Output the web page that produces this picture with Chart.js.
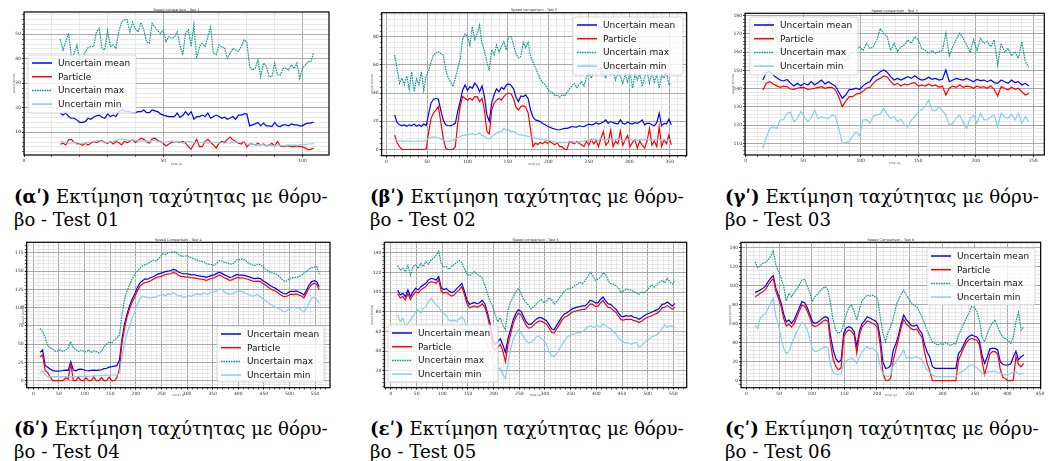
<!DOCTYPE html>
<html>
<head>
<meta charset="utf-8">
<script src="https://cdn.jsdelivr.net/npm/chart.js@4.4.1/dist/chart.umd.min.js"></script>
<style>
  body { margin: 0; background: #fff; width: 1050px; height: 461px; position: relative; overflow: hidden; }
  canvas { position: absolute; }
  .cap { position: absolute; font-family: 'DejaVu Serif', 'Liberation Serif', serif; font-size: 17px; line-height: 23px; color: #000; white-space: nowrap; }
</style>
</head>
<body>
<canvas id="c1" width="350" height="170" style="left:0px;top:0px"></canvas>
<canvas id="c2" width="350" height="170" style="left:355px;top:0px"></canvas>
<canvas id="c3" width="340" height="170" style="left:710px;top:0px"></canvas>
<canvas id="c4" width="350" height="166" style="left:0px;top:235px"></canvas>
<canvas id="c5" width="350" height="166" style="left:355px;top:235px"></canvas>
<canvas id="c6" width="340" height="166" style="left:710px;top:235px"></canvas>

<div class="cap" style="left:14px;top:185px"><span><b>(α&#x374;)</b> Εκτίμηση ταχύτητας με θόρυ-</span><br>βο - Test 01</div>
<div class="cap" style="left:370px;top:185px"><span><b>(β&#x374;)</b> Εκτίμηση ταχύτητας με θόρυ-</span><br>βο - Test 02</div>
<div class="cap" style="left:725px;top:185px"><span><b>(γ&#x374;)</b> Εκτίμηση ταχύτητας με θόρυ-</span><br>βο - Test 03</div>
<div class="cap" style="left:14px;top:417px"><span><b>(δ&#x374;)</b> Εκτίμηση ταχύτητας με θόρυ-</span><br>βο - Test 04</div>
<div class="cap" style="left:370px;top:417px"><span><b>(ε&#x374;)</b> Εκτίμηση ταχύτητας με θόρυ-</span><br>βο - Test 05</div>
<div class="cap" style="left:725px;top:417px"><span><b>(ς&#x374;)</b> Εκτίμηση ταχύτητας με θόρυ-</span><br>βο - Test 06</div>

<script>
// sampling grid of each test: first time, step (s)
const t1Start = 13, t1Step = 1
const t2Start = 10, t2Step = 3
const t3Start = 15, t3Step = 3
const t4Start = 13, t4Step = 5
const t5Start = 13, t5Step = 5
const t6Start = 13, t6Step = 4

// Test 1
const mean1 = [17.8, 17, 17.8, 16.4, 15.7, 15.7, 15, 14, 14, 14.3,
  15.7, 15.3, 16.1, 16.7, 17, 16.1, 15.7, 17.5, 16.4, 17,
  16.4, 18.4, 19.1, 18.7, 18.4, 18.4, 18, 18, 18.4, 18.4,
  19.1, 18, 18, 19.1, 18.7, 18.4, 17.5, 17, 16.7, 16.4,
  16.4, 16.4, 17.8, 16.1, 16.8, 18.4, 17, 18.4, 15.3, 16.4,
  16.4, 17, 16.4, 17.8, 15.7, 16.4, 17, 16.4, 15.7, 16.1,
  15.3, 15.8, 16.4, 15.3, 17, 17, 17.5, 17.5, 12.6, 13,
  13.4, 14, 12.6, 13.7, 12.6, 12.6, 12.3, 14, 12.6, 12.3,
  13, 13, 12.6, 13.4, 13, 13, 12.6, 12.6, 13.4, 13.7,
  13.7, 14.2]
const particle1 = [5.1, 5.5, 4.8, 6.9, 7.1, 5.8, 5.5, 5.2, 4.7, 5.5,
  4.8, 5.5, 6.2, 5.8, 6.2, 6.6, 5.8, 5.5, 6.2, 5.2,
  6.2, 5.8, 4.8, 6.2, 5.8, 6.2, 6.9, 5.8, 6.6, 7.6,
  7.1, 6.2, 5.5, 7.3, 7.6, 6.6, 6.2, 5.5, 4.4, 5.2,
  5.8, 6.2, 6.2, 5.8, 6.2, 5.5, 4.1, 3.1, 5.2, 7.1,
  4.1, 4.1, 6.2, 7.1, 5.8, 4.8, 3.5, 5.5, 6.2, 5.8,
  7.1, 8, 6.9, 6.2, 5.5, 5.2, 6.2, 4.1, 5.2, 5.2,
  4.8, 5.5, 4.8, 5.2, 4.4, 4.8, 5.5, 4.4, 6.2, 4.4,
  4.1, 4.4, 4.4, 4.1, 4.1, 4.4, 4.1, 4.1, 3.5, 2.8,
  3.0, 3.5]
const max1 = [48, 43.5, 47, 50.4, 41, 42, 45.6, 39.5, 40, 43,
  44.5, 45, 45, 51, 52.4, 44.3, 43.6, 51.5, 45, 45.6,
  44.3, 51, 54.8, 55.9, 56, 51, 55, 52, 51, 54.8,
  51.8, 47, 46.3, 54.5, 53, 51.5, 50.4, 51.8, 47, 49,
  48.4, 48.8, 51, 45.6, 41.6, 50.4, 51.8, 45, 53.8, 40.2,
  45, 46.3, 45, 49, 53, 42.2, 41.6, 45.6, 44.7, 44.7,
  40.2, 42.2, 44.3, 43.6, 43, 45, 47.7, 47, 36.8, 35.4,
  36.1, 39.5, 32.7, 38.2, 36.8, 32.7, 32.7, 38.2, 33.4, 33.4,
  36.1, 36.1, 35.4, 37.5, 36, 38.2, 32, 36.1, 37.5, 38.8,
  38.8, 42.5]
const min1 = [6.2, 6, 5.8, 5.5, 5.5, 5.8, 5, 5.2, 5.5, 5.5,
  5.8, 6, 6.2, 6.5, 6.6, 6.2, 6, 5.8, 6, 6.2,
  6.6, 7, 7.1, 7.1, 6.9, 6.6, 6.9, 6.6, 6.6, 6.4,
  6.6, 6.4, 6.2, 6.6, 6.6, 6.2, 6, 5.8, 6, 6.2,
  6.4, 6.2, 6.2, 6, 5.5, 6.2, 6.2, 6, 5.8, 5.5,
  5.8, 5.8, 6, 5.5, 5.8, 6, 5.8, 5.5, 5.8, 5.5,
  5.8, 5.5, 5.8, 6, 5.8, 6, 6.2, 5.2, 5, 5.2,
  4.8, 4.6, 5, 4.8, 4.6, 4.8, 4.4, 4.6, 4.8, 4.6,
  4.4, 4.6, 4.8, 4.6, 4.8, 4.6, 4.8, 5, 5, 5.2,
  5.2, 5.4]

// Test 2
const mean2 = [24.5, 19, 17.5, 17, 17.5, 16.5, 17.5, 16.8, 18, 16.5,
  17.5, 16.3, 18, 17, 25, 33, 35.5, 36.3, 35.6, 28,
  21, 17.5, 17, 16.8, 17.5, 18.6, 27, 34, 42, 45.8,
  42, 44.6, 43.4, 47, 45, 41, 45, 37.5, 24.5, 20,
  33, 39, 43, 41, 44, 42.7, 45.8, 46.5, 45.5, 43,
  37, 34, 38, 37.5, 38.7, 36, 28, 23, 21, 20.5,
  19.8, 18.5, 17.5, 16.5, 15.8, 15, 14.5, 14, 14, 14.5,
  15, 15, 15.5, 16.3, 16, 15.8, 16.8, 16.5, 16.3, 17.2,
  18, 17.5, 17.8, 19, 18, 18.6, 19.5, 21, 18.5, 19.8,
  19, 18.5, 18, 21, 18.5, 18, 19.5, 18.5, 18, 19,
  18.5, 19.5, 21, 17.5, 18.5, 18.6, 17.5, 16.8, 19, 25.7,
  16.8, 18.5, 18, 21.5, 17.5]
const particle2 = [10.4, 5, 2, 0, 0, 0, 0, 0, 0, 0,
  0, 0, 0, 0.5, 12, 22, 25.7, 28, 30.4, 20,
  8, 1, 0, 0, 0, 2, 18.6, 30.4, 37.5, 36.3,
  35, 36.3, 35, 37.5, 37.5, 34, 36.3, 28, 12.7, 11,
  28, 33, 35, 36.3, 35, 37.5, 39.4, 40, 39.5, 36,
  30, 28, 30.4, 31, 30, 26, 14, 2, 4.5, 3.5,
  5, 4, 5.7, 4.5, 5.7, 4.5, 3.3, 5, 2, 2,
  0, 0, 5.7, 5, 4, 5.7, 4.5, 3.3, 2, 6,
  3, 7, 4, 6.5, 2, 8, 12.7, 3, 5, 13.8,
  2, 6, 4, 13, 3, 6.8, 10, 2, 5, 7,
  1, 6, 3, 1, 6, 15, 3, 6, 2, 16.3,
  2, 6.8, 4, 10.4, 3.3]
const max2 = [67, 57.6, 47, 50.5, 46, 52, 43, 55, 41, 50,
  46, 55, 42, 52, 56, 62, 67, 68.5, 69.4, 68,
  67, 57, 51, 48, 44.6, 50.5, 57.6, 64, 78, 82,
  80, 74, 87, 78, 82, 88, 75, 70, 62, 56,
  70.6, 67, 74, 69.4, 73, 76.5, 70.6, 80, 80, 74,
  68, 65, 66, 76, 72, 76, 66, 62, 58, 54,
  50, 47.5, 46, 43, 41, 40.5, 38, 38.7, 37, 39,
  38, 40.5, 43, 45, 47, 44, 46, 48, 45, 51,
  55, 50.5, 56, 53, 58.8, 53, 55, 50.5, 63.5, 53,
  55, 49.3, 55, 51.7, 47, 53, 48, 55, 43.4, 53,
  49.3, 54, 44.6, 51.7, 55, 47, 55, 48, 53, 43.4,
  53, 50.5, 55, 45.8, 47]
const min2 = [6.8, 6.5, 6, 6.2, 5.8, 6.2, 5.7, 6, 5.5, 6,
  5.7, 6.2, 5.8, 6.4, 8, 8.7, 8.9, 8.7, 8.5, 7.5,
  6.8, 6, 5.7, 6.2, 6.5, 7.3, 8.5, 9.2, 10, 10.4,
  10.2, 11, 11.2, 10.4, 10.8, 11.6, 10, 9.5, 8, 7.5,
  9, 10.5, 11.6, 12.5, 13, 15, 13.5, 14, 12.7, 13,
  11.5, 10.5, 10.4, 9.8, 10, 9.2, 9.5, 9, 8, 7.8,
  7.3, 7, 6.8, 6.5, 6.4, 5.7, 5.5, 5, 5, 5.2,
  5, 5, 5.3, 5.7, 5.2, 5, 5.5, 5.7, 6, 6.4,
  6.8, 6.5, 7.3, 6.8, 6.5, 8, 7, 6.8, 7.3, 7,
  6.4, 7, 7.3, 6.8, 6.4, 6.5, 6.8, 7.3, 6.5, 6.8,
  6.4, 7, 6.8, 6.8, 7.3, 6.8, 6.4, 7, 6.8, 7.3,
  6.4, 6.8, 6.5, 6.8, 6.8]

// Test 3
const mean3 = [144.7, 148.8, 149.3, 147.5, 146, 144.7, 144.2, 145, 143, 141.4,
  142.9, 141.6, 142.9, 142, 143.8, 142, 143.3, 144.7, 142.5, 143.8,
  142.5, 141.4, 138, 134.7, 136.5, 139.5, 139.6, 140.2, 139.5, 141.5,
  142.9, 143.8, 146.6, 147.5, 149.3, 150.2, 149, 146.6, 144.7, 145.6,
  144.7, 145.6, 146.6, 145.6, 147, 145.6, 144.7, 145.1, 146.2, 145.1,
  145.6, 144.7, 145.1, 150.2, 143.8, 144.7, 145.6, 145.1, 144.7, 145.6,
  144.7, 143.8, 145.1, 144.4, 144.7, 143.8, 144.7, 143.3, 142.9, 144.7,
  143.8, 142.9, 144.7, 143.3, 143.8, 142, 142.9, 141.4]
const particle3 = [139.2, 143, 143.8, 142.5, 141.5, 140.7, 141.4, 141, 139.8, 139.6,
  140.2, 140.7, 140.5, 139.6, 139.8, 140.2, 140.7, 141.1, 140.2, 140.7,
  140.7, 139.2, 135.5, 130.1, 133, 135.6, 135.6, 137, 137.4, 138.5,
  140.2, 140.7, 142.9, 144.7, 145.6, 147, 146.4, 144, 142, 142.9,
  141.4, 142.5, 142, 142.9, 143.3, 141.4, 142, 141.4, 142.5, 141.4,
  142, 140.7, 141.4, 136.5, 140.2, 141.4, 140.7, 142, 140.7, 141.4,
  141.1, 140.2, 141.4, 140.7, 141.1, 140.2, 141.4, 139.6, 136, 141.1,
  140.2, 139.2, 140.7, 139.6, 140.2, 138.3, 136.5, 137.4]
const max3 = [171, 175, 177, 171, 168, 164, 160.5, 157.5, 156, 155,
  154.8, 156, 156.6, 154.5, 155, 155.7, 157, 158.4, 156, 156.5,
  157.5, 158.5, 159.4, 157, 155, 158.4, 160, 161.5, 163, 161,
  164.8, 162, 163, 166.7, 173, 170.3, 168.5, 161, 164.8, 160.3,
  163, 164, 166.7, 164.8, 168.5, 166.7, 162, 161, 159.4, 161,
  159.4, 160.3, 161, 170.3, 158, 163, 167, 170.3, 167.6, 164,
  160, 166.7, 161, 167.6, 164.8, 165.7, 163, 166.7, 153, 164.8,
  160, 162, 158, 160.3, 156.6, 165.7, 154.8, 152]
const min3 = [107.3, 113.2, 118.2, 119.1, 118.2, 122.8, 123, 126.5, 127, 121.9,
  123.7, 127.4, 124.6, 121.9, 124, 128.3, 123.5, 124.6, 124, 123.7,
  125.5, 125, 118, 110, 110.5, 110.9, 114, 116.4, 114, 122.8,
  123, 121, 125, 125.5, 126, 129.2, 125.8, 123.7, 124.6, 121.9,
  123.2, 120.1, 119, 122.8, 124.6, 127.4, 128.5, 130.1, 133.8, 128.3,
  128, 130.1, 127.8, 125.5, 120, 121, 124, 125.5, 121.5, 118.2,
  123.5, 125.5, 121, 126.5, 123, 122.8, 124.6, 125.5, 119.1, 126.5,
  124.6, 123.7, 126, 122.8, 126.5, 121, 124.6, 121.9]

// Test 4
const mean4 = [38.8, 42, 21, 18.5, 16, 13.8, 13.2, 13.2, 13.5, 14,
  14.6, 14.2, 26, 14.6, 13.5, 15.5, 15.9, 15, 14, 13.5,
  14.2, 14.6, 14.2, 14.6, 15, 16.5, 17, 18.5, 19.2, 20,
  20.6, 28.3, 57, 78, 92, 103, 112, 119, 127.5, 134,
  137, 139.5, 139, 141, 142, 144, 146, 147, 148, 149.5,
  150, 151, 152.5, 151.5, 149, 147.5, 146.5, 146.5, 146, 145,
  145.5, 144.3, 143.5, 143, 142.5, 141.5, 143, 144.2, 145, 147,
  148.5, 147, 145, 143.5, 141.5, 142, 144, 145.5, 144.5, 144.8,
  144, 143, 141.8, 140.5, 139.8, 140.5, 140, 137, 135, 132.5,
  130, 128, 126.5, 124, 121.5, 119.5, 118.5, 121, 122.5, 122,
  122.9, 121.5, 120, 117.4, 124, 131, 135.5, 137, 135.5, 128.8]
const particle4 = [32.9, 35.2, 14, 11, 5, 0, 0, 0, 0, 0,
  4, 2, 23.8, 0, 0, 5, 0, 0, 4, 0,
  0, 5, 0, 0, 4, 0, 0, 5, 0, 0,
  4, 16.4, 52, 72, 88, 99, 107.5, 115, 123, 129.5,
  132.5, 134.5, 135, 136.5, 138.5, 140.5, 142, 142.6, 144, 145.5,
  146, 146.5, 148, 147.5, 144.5, 143, 142.5, 142, 142, 141,
  140.8, 140.3, 139.5, 139, 138.5, 137.5, 139, 140, 141, 143,
  144.5, 143, 141, 139.5, 137.5, 138, 140, 141.5, 140.5, 141,
  140, 139, 137.8, 136.5, 136, 136.5, 136, 133, 131, 128.5,
  126, 124, 122.5, 120, 117.5, 115.5, 115, 117, 118.5, 118,
  119, 117.5, 116, 113.5, 120, 127, 131.5, 133.5, 132, 124.5]
const max4 = [71.7, 67, 60, 48, 45, 43, 40.5, 40.5, 42, 39.8,
  42, 45, 53.4, 45, 42.5, 40, 42, 40.7, 39.5, 42,
  39, 40.7, 39.8, 38, 40, 46.6, 50, 53.4, 51.2, 56,
  58, 62.6, 90, 112, 123, 132, 140, 145.5, 150, 154,
  157.5, 159, 160.2, 162.5, 165, 164, 166, 170, 174, 173,
  175, 176, 176.5, 176, 173, 171, 170.5, 171, 170.5, 168.5,
  167, 166, 164, 163.5, 163, 160, 159.5, 159, 158, 161,
  164.5, 164, 162, 161.5, 160, 159.5, 162.5, 166, 166, 166.5,
  165.5, 162, 160, 158.5, 158, 159.5, 159, 156, 153, 150.5,
  148, 147.5, 146.5, 144, 140.5, 137, 136, 138.5, 141, 141.2,
  141.8, 142, 144, 147.5, 149.5, 153, 154.5, 155.5, 156.3, 145.8]
const min4 = [11.4, 13.2, 8, 5.5, 5.5, 5.2, 5.5, 5.5, 5.3, 5.5,
  5.5, 5.7, 5.5, 5.5, 5.8, 5.8, 6, 6, 6.2, 6,
  6.2, 6.5, 6.5, 6.8, 7, 7, 7.3, 7.5, 7.8, 7.8,
  8, 10, 32, 52, 65, 76, 86, 95, 104, 112,
  116, 114.5, 114, 113, 114.5, 114, 116, 117, 118, 116,
  119, 118, 120.5, 118.5, 116, 116.5, 114, 115, 116.5, 115.5,
  117.5, 119, 118, 118, 120.5, 118.5, 119.5, 121.5, 122, 123,
  125.7, 125, 121.5, 119.7, 118.5, 119, 121, 122.5, 123, 122,
  120, 118.5, 117, 115.5, 117, 118, 115, 112, 109.5, 107,
  104.5, 102.5, 100.5, 99, 97.5, 94.5, 95, 98, 99.5, 101,
  99.5, 100, 97, 94, 99, 106, 113, 114, 111, 106]

// Test 5
const mean5 = [102.1, 97.1, 98.8, 95.4, 102.1, 95.4, 100.4, 103.8, 102.1, 105.5,
  107.2, 108.9, 112.3, 114, 113.3, 112.3, 115.7, 104, 102.5, 103.5,
  101, 99.5, 100.5, 103.5, 106, 108.9, 101, 92, 87.5, 88.6,
  89.5, 88, 89.5, 91.5, 88, 79, 68, 52, 47, 50,
  52.5, 46, 39, 53, 62, 72, 78, 82, 80.5, 75.5,
  70, 67, 67.5, 70, 72.5, 74, 74, 72.5, 71, 67,
  62.5, 62, 66.5, 70.5, 75, 78, 79, 81, 83, 84,
  84.8, 85.2, 86, 86, 88.5, 91.5, 91, 89, 89, 92.5,
  95, 91, 88, 87.5, 85, 83, 79, 75.5, 75.1, 76,
  75.5, 76, 74.5, 74, 72.5, 74, 76, 77.5, 78.5, 79.5,
  81, 81.9, 84, 87.5, 88, 90, 88, 86, 88.6]
const particle5 = [98.5, 94, 95.5, 92, 98.5, 92.5, 97, 100.5, 99, 102,
  104, 105.5, 109, 110.5, 110, 109, 112.5, 100.5, 99, 100,
  97.5, 96, 97, 100, 102.5, 105.5, 97.5, 88.5, 84, 85,
  86, 84.5, 86, 88, 84.5, 75.5, 64, 44, 41.3, 44,
  47, 40, 29.5, 47, 57, 68, 74.5, 78.5, 77, 72,
  66.5, 63.5, 64, 66.5, 69, 70.5, 70.5, 69, 67.5, 63.5,
  59, 58.5, 63, 67, 71.5, 74.5, 75.5, 77.5, 79.5, 80.5,
  81.3, 81.7, 82.5, 82.5, 85, 88, 87.5, 85.5, 85.5, 89,
  91.5, 87.5, 84.5, 84, 81.5, 79.5, 75.5, 72, 71.6, 72.5,
  72, 72.5, 71, 70.5, 69, 70.5, 72.5, 74, 75, 76,
  77.5, 78.4, 80.5, 84, 84.5, 86.5, 84.5, 82.5, 85]
const max5 = [126.8, 122.4, 124, 120.7, 126.8, 117.3, 125.8, 127.5, 124, 129.2,
  125.8, 130.9, 128.2, 132.6, 134.3, 137.6, 141.7, 128.5, 125.5, 125.8,
  123, 126, 128, 130, 132, 130, 124, 118.5, 116.5, 119,
  120.7, 118, 116.5, 114, 107, 98.5, 91, 85.5, 77, 70,
  74, 66, 62, 82, 90, 95, 100, 104, 99, 93,
  89.5, 86.5, 83, 85, 88, 91, 92.5, 89, 91, 94.5,
  92, 88, 90.5, 94, 97.5, 101, 103, 103.5, 104.5, 106.5,
  108, 110, 108.5, 111.5, 115.5, 120, 117, 112, 113, 115,
  119.5, 118, 112, 108.5, 108, 106.5, 104.5, 99.5, 101, 103,
  102.5, 102, 100.5, 99.5, 97.5, 100, 99, 101.5, 104.5, 107,
  105, 107.5, 110, 112, 109.5, 114, 110.6, 108, 112.3]
const min5 = [76.8, 70, 73.4, 65, 68.3, 71.7, 75.1, 80.2, 81.9, 78.5,
  83.5, 85.2, 90.3, 93.7, 90.3, 86.9, 85.2, 80, 78.5, 76,
  71.5, 70.5, 71.5, 70, 73, 75, 72, 62, 58.5, 59.9,
  57, 57.5, 55.5, 56.5, 52, 45, 39, 32, 24.5, 21.5,
  23, 16, 12.5, 28, 42, 52, 57, 61.5, 59, 55,
  50.5, 48.5, 49, 51.5, 54.5, 55.5, 52.5, 50.5, 46.5, 39.5,
  35.5, 34.5, 38, 42.5, 46.5, 50.5, 54.5, 56, 57, 57.5,
  59, 58.5, 60, 62, 64.5, 66, 64.5, 64.5, 66, 64.5,
  67.5, 66, 64, 62.5, 60, 57.5, 53.5, 50.5, 49, 48.5,
  48.5, 47, 48.5, 49, 44, 45.5, 48.5, 51, 52.5, 55,
  55.5, 57, 59, 63, 66.6, 64, 66, 65, 64]

// Test 6
const mean6 = [93, 94, 95.5, 97.2, 99.5, 104, 108, 110.5, 97.2, 90,
  82, 70, 62, 63.9, 60.5, 64, 70.5, 77, 83.2, 82,
  77, 70, 62, 60.4, 61.5, 63.5, 66, 67.4, 66, 46,
  32, 23, 19.5, 21.8, 50, 55.5, 56.8, 55.5, 51.6, 36,
  52, 60, 63, 67.4, 66, 64.5, 63, 60, 44.6, 20,
  13, 13.5, 16, 32.3, 39, 48, 60, 69.1, 63.9, 61,
  58, 57.5, 58.6, 53.3, 49.5, 38, 30, 25, 14.7, 13,
  13, 13, 13, 13, 13, 13, 13, 13, 28.8, 32,
  38, 43.5, 46.5, 48.1, 47, 46, 42, 27, 18.2, 25,
  33.5, 34, 34, 32.3, 20, 17, 16.5, 16.5, 17.5, 25,
  31, 22, 25.3, 27]
const particle6 = [88.4, 90, 92, 93.5, 96, 100.5, 104.5, 107.5, 94, 86.5,
  78, 65.5, 57.5, 59.5, 56.5, 60, 66.5, 73.5, 79.6, 78.5,
  73.5, 66.5, 58.5, 57, 58, 60, 62.5, 63.9, 62.5, 38,
  22, 15, 11.5, 13.5, 46, 51.6, 53.3, 52, 48, 28.8,
  48, 56.5, 59.5, 62.8, 62, 60.5, 59, 55.5, 37.5, 8,
  0.7, 0, 2.5, 22, 33, 44, 56, 64.5, 59.5, 57,
  54.5, 53.5, 54.5, 49.5, 45.5, 30, 18, 10, 0, 0,
  0, 0, 0, 0, 0, 0, 0, 0, 21.8, 28,
  34.5, 40, 43, 44.6, 43.5, 42.5, 38, 21, 6.3, 17,
  28, 30.5, 30.5, 28, 12, 3.5, 2, 0, 0, 0.5,
  25.3, 17, 14.7, 18.2]
const max6 = [125.3, 119, 121, 123.5, 124.5, 127, 131, 136.5, 121.8, 115,
  108, 99, 84, 91.9, 88.4, 92.5, 96, 101, 106, 106.5,
  100, 93, 83.2, 88.4, 91, 95, 97.5, 99, 95.4, 80,
  63, 53, 49.8, 51.6, 60, 70, 77, 79.6, 72.6, 64,
  75, 84, 87.5, 90.2, 89, 90, 88.5, 86, 67.4, 50,
  41, 51, 57, 65.6, 78, 85.5, 91, 95.4, 90.2, 86,
  82, 79, 77.9, 72.6, 67, 60, 53, 46.5, 41, 39.3,
  37.5, 39, 38, 40, 38.5, 37, 39, 38.5, 48, 54,
  60, 66, 71, 77.9, 77, 73.5, 64, 46, 41, 49.5,
  56, 61, 63.9, 57, 50, 46, 44, 42.8, 39.3, 46,
  62, 72, 53.3, 56.8]
const min6 = [58.6, 55, 66, 69.1, 70.5, 76, 82, 86.7, 67.4, 59,
  45, 34, 28.5, 30.5, 39, 45, 51.5, 56.5, 61.4, 59.5,
  54, 44, 33, 30.5, 31.5, 33, 34.5, 35.8, 34, 16,
  8.5, 7, 6.7, 7.7, 18, 21, 22.5, 23.5, 21.8, 18.2,
  25, 30.5, 33, 35.8, 33.5, 34.5, 32, 28.8, 14.7, 7,
  5, 4.2, 6, 16.5, 19, 23.5, 28, 32.3, 23.5, 25,
  23.5, 24.5, 25.3, 23.5, 22, 16, 11, 9, 6, 4.2,
  4.2, 4.2, 4.2, 4.2, 4.2, 4.2, 4.2, 4.2, 7.7, 9,
  10.5, 13, 15.5, 17.2, 15.5, 14, 11, 7.7, 6, 8.5,
  9.5, 9.5, 10, 8.5, 7.7, 6.5, 6, 6, 7.7, 8.8,
  9.5, 7, 7.5, 7.7]

const seriesNames = ['Uncertain mean', 'Particle', 'Uncertain max', 'Uncertain min']

const timeGrid = (start, step, n) => Array.from({ length: n }, (_, i) => start + i * step)

// layout of each subplot, in canvas pixels: plot area [left, top, right, bottom], legend box [x, y, w, h]
const panels = [
  { id: 'c1', title: 'Speed comparison - Test 1', t: timeGrid(t1Start, t1Step, mean1.length),
    series: [mean1, particle1, max1, min1], x: [0, 109.5, 50, 10], y: [0.7, 59.1, 10, 2],
    area: [24, 12, 329, 155], yTitleX: 14, xTitleY: 164, legend: [28, 55, 108, 58] },
  { id: 'c2', title: 'Speed comparison - Test 2', t: timeGrid(t2Start, t2Step, mean2.length),
    series: [mean2, particle2, max2, min2], x: [-6, 371, 50, 10], y: [-4.4, 97, 20, 4],
    area: [26.7, 12.7, 331.7, 155.7], yTitleX: 17, xTitleY: 164, legend: [218, 17, 110, 58] },
  { id: 'c3', title: 'Speed comparison - Test 3', t: timeGrid(t3Start, t3Step, mean3.length),
    series: [mean3, particle3, max3, min3], x: [-0.5, 259.5, 50, 10], y: [103.6, 181.3, 10, 2],
    area: [35, 13.3, 334.3, 155], yTitleX: 23, xTitleY: 163, legend: [40, 17, 108, 58] },
  { id: 'c4', title: 'Speed Comparison - Test 4', t: timeGrid(t4Start, t4Step, mean4.length),
    series: [mean4, particle4, max4, min4], x: [-13, 579, 50, 10], y: [-9.6, 189.6, 25, 5],
    area: [26.7, 7.3, 330, 152.7], yTitleX: 23, xTitleY: 160.5, legend: [217, 91, 107, 56] },
  { id: 'c5', title: 'Speed comparison - Test 5', t: timeGrid(t5Start, t5Step, mean5.length),
    series: [mean5, particle5, max5, min5], x: [-13, 576, 50, 10], y: [3, 150.5, 20, 4],
    area: [29.3, 7.3, 331.7, 152.7], yTitleX: 17, xTitleY: 160.5, legend: [33, 90, 110, 57] },
  { id: 'c6', title: 'Speed Comparison - Test 6', t: timeGrid(t6Start, t6Step, mean6.length),
    series: [mean6, particle6, max6, min6], x: [-8.5, 451, 50, 10], y: [-7.4, 145.7, 20, 4],
    area: [31, 7.3, 330.7, 152.7], yTitleX: 20, xTitleY: 160.5, legend: [217, 13, 108, 57] }
]

const styles = [
  { borderColor: '#0000ff', order: 4 },
  { borderColor: '#ff0000', order: 3 },
  { borderColor: '#0f9690', borderDash: [1.6, 0.9], order: 2 },
  { borderColor: '#87ceeb', order: 1 }
]

function axis (which, [min, max, major, minor], size) {
  const isMajor = v => Math.abs(v / major - Math.round(v / major)) < 1e-6
  return {
    type: 'linear',
    min: min,
    max: max,
    afterBuildTicks: s => {
      const ticks = []
      for (let v = Math.ceil(min / minor) * minor; v <= max + 1e-9; v += minor) {
        ticks.push({ value: Math.round(v * 1000) / 1000 })
      }
      s.ticks = ticks
    },
    afterFit: s => {
      if (which === 'x') s.height = size
      else s.width = size
    },
    ticks: {
      autoSkip: false,
      maxRotation: 0,
      padding: 1,
      color: '#333',
      font: { family: 'DejaVu Sans', size: 4.5 },
      callback: v => isMajor(v) ? String(v) : ''
    },
    grid: {
      color: c => c.tick && isMajor(c.tick.value) ? '#a9a9a9' : '#dedede',
      lineWidth: c => c.tick && isMajor(c.tick.value) ? 1 : 0.7,
      tickLength: 2,
      tickColor: '#333'
    },
    border: { display: false }
  }
}

function makeChart (p) {
  const canvas = document.getElementById(p.id)
  const W = canvas.width
  const H = canvas.height
  const [L, T, R, B] = p.area

  // frame, tiny titles and the boxed legend inside the plot area
  const decor = {
    id: 'decor_' + p.id,
    afterDatasetsDraw (chart) {
      const ctx = chart.ctx
      const a = chart.chartArea
      ctx.save()
      ctx.strokeStyle = '#000'
      ctx.lineWidth = 1.2
      ctx.strokeRect(a.left, a.top, a.right - a.left, a.bottom - a.top)

      ctx.fillStyle = '#333'
      ctx.font = '3.5px "DejaVu Sans"'
      ctx.textAlign = 'center'
      ctx.textBaseline = 'alphabetic'
      ctx.fillText(p.title, (a.left + a.right) / 2, a.top - 1.5)

      ctx.fillStyle = '#555'
      ctx.font = '3px "DejaVu Sans"'
      ctx.textBaseline = 'middle'
      ctx.fillText('time (s)', (a.left + a.right) / 2, p.xTitleY)
      ctx.save()
      ctx.translate(p.yTitleX, (a.top + a.bottom) / 2)
      ctx.rotate(-Math.PI / 2)
      ctx.fillText('speed (km/h)', 0, 0)
      ctx.restore()

      const [lx, ly, lw, lh] = p.legend
      ctx.fillStyle = 'rgba(255,255,255,0.8)'
      ctx.strokeStyle = 'rgba(200,200,200,0.9)'
      ctx.lineWidth = 0.8
      ctx.beginPath()
      ctx.roundRect(lx, ly, lw, lh, 2)
      ctx.fill()
      ctx.stroke()

      ctx.font = '9px "DejaVu Sans"'
      ctx.textAlign = 'left'
      ctx.textBaseline = 'middle'
      chart.data.datasets.forEach((ds, i) => {
        const ry = ly + 8 + i * 13.7
        ctx.strokeStyle = ds.borderColor
        ctx.lineWidth = 1.5
        ctx.setLineDash(ds.borderDash || [])
        ctx.beginPath()
        ctx.moveTo(lx + 4, ry)
        ctx.lineTo(lx + 24, ry)
        ctx.stroke()
        ctx.setLineDash([])
        ctx.fillStyle = '#111'
        ctx.fillText(ds.label, lx + 30, ry + 0.5)
      })
      ctx.restore()
    }
  }

  return new Chart(canvas, {
    type: 'line',
    data: {
      datasets: p.series.map((vals, k) => Object.assign({
        label: seriesNames[k],
        data: p.t.map((t, i) => ({ x: t, y: vals[i] })),
        borderWidth: 1.2,
        pointRadius: 0,
        tension: 0,
        fill: false
      }, styles[k]))
    },
    options: {
      responsive: false,
      animation: false,
      events: [],
      layout: { padding: { left: 0, top: T, right: W - R, bottom: 0 } },
      scales: {
        x: axis('x', p.x, H - B),
        y: axis('y', p.y, L)
      },
      plugins: {
        legend: { display: false },
        tooltip: { enabled: false },
        title: { display: false }
      }
    },
    plugins: [decor]
  })
}

panels.forEach(makeChart)

// captions: first line of the reference spans about 314 px
document.querySelectorAll('.cap').forEach(el => {
  const w = el.querySelector('span').getBoundingClientRect().width
  el.style.fontSize = (17 * 314 / w).toFixed(2) + 'px'
})
</script>
</body>
</html>
